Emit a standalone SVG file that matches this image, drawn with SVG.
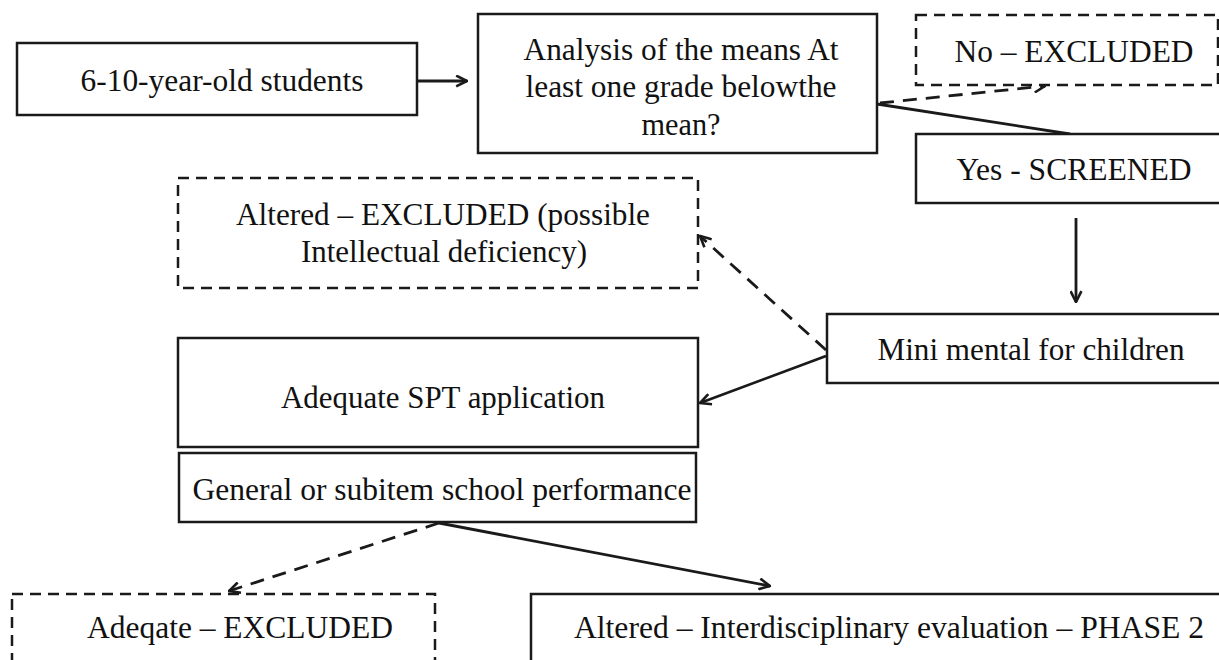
<svg xmlns="http://www.w3.org/2000/svg" width="1219" height="660" viewBox="0 0 1219 660">
  <style>
    .box { fill: #ffffff; stroke: #1a1a1a; stroke-width: 2.5; }
    .dbox { fill: #ffffff; stroke: #1a1a1a; stroke-width: 2.5; stroke-dasharray: 11 7; }
    .lbl { font-family: "Liberation Serif", "Times New Roman", serif; font-size: 31px; fill: #111111; text-anchor: middle; }
    .con { fill: none; stroke: #1a1a1a; stroke-width: 2.8; }
    .dcon { fill: none; stroke: #1a1a1a; stroke-width: 2.8; stroke-dasharray: 14 9; }
  </style>
  <defs>
    <marker id="arr" viewBox="0 0 12 12" refX="11" refY="6" markerWidth="13" markerHeight="13" markerUnits="userSpaceOnUse" orient="auto">
      <path d="M1,1 L11,6 L1,11" fill="none" stroke="#1a1a1a" stroke-width="2.4"/>
    </marker>
  </defs>
  <rect width="1219" height="660" fill="#ffffff"/>

  <g id="connectors">
    <line class="con" x1="417" y1="81" x2="467" y2="81" marker-end="url(#arr)"/>
    <line class="con" x1="877" y1="104" x2="1070" y2="134"/>
    <line class="dcon" x1="880" y1="103" x2="1045" y2="86" marker-end="url(#arr)"/>
    <line class="con" x1="1076" y1="218" x2="1076" y2="302" marker-end="url(#arr)"/>
    <line class="dcon" x1="826" y1="350" x2="700" y2="236" marker-end="url(#arr)"/>
    <line class="con" x1="826" y1="356" x2="700" y2="403" marker-end="url(#arr)"/>
    <line class="dcon" x1="439" y1="523" x2="229" y2="591" marker-end="url(#arr)"/>
    <line class="con" x1="439" y1="523" x2="770" y2="586" marker-end="url(#arr)"/>
  </g>

  <g id="node-students">
    <rect class="box" x="17" y="43" width="400" height="72"/>
    <text class="lbl" x="222" y="91" textLength="283" lengthAdjust="spacingAndGlyphs">6-10-year-old  students</text>
  </g>

  <g id="node-analysis">
    <rect class="box" x="478" y="14" width="399" height="139"/>
    <text class="lbl" x="681" y="60" textLength="315" lengthAdjust="spacingAndGlyphs">Analysis  of the means At</text>
    <text class="lbl" x="681" y="97" textLength="311" lengthAdjust="spacingAndGlyphs">least one grade belowthe</text>
    <text class="lbl" x="681" y="135" textLength="79" lengthAdjust="spacingAndGlyphs">mean?</text>
  </g>

  <g id="node-no-excluded">
    <rect class="dbox" x="916" y="15" width="302" height="70"/>
    <text class="lbl" x="1074" y="62" textLength="239" lengthAdjust="spacingAndGlyphs">No – EXCLUDED</text>
  </g>

  <g id="node-yes-screened">
    <rect class="box" x="916" y="134" width="310" height="69"/>
    <text class="lbl" x="1074" y="180" textLength="235" lengthAdjust="spacingAndGlyphs">Yes - SCREENED</text>
  </g>

  <g id="node-altered-excluded">
    <rect class="dbox" x="178" y="178" width="520" height="110"/>
    <text class="lbl" x="443" y="225" textLength="414" lengthAdjust="spacingAndGlyphs">Altered – EXCLUDED (possible</text>
    <text class="lbl" x="444" y="262" textLength="286" lengthAdjust="spacingAndGlyphs">Intellectual  deficiency)</text>
  </g>

  <g id="node-mini-mental">
    <rect class="box" x="827" y="314" width="400" height="69"/>
    <text class="lbl" x="1031" y="360" textLength="307" lengthAdjust="spacingAndGlyphs">Mini mental  for children</text>
  </g>

  <g id="node-spt">
    <rect class="box" x="178" y="338" width="520" height="109"/>
    <text class="lbl" x="443" y="408" textLength="324" lengthAdjust="spacingAndGlyphs">Adequate SPT application</text>
  </g>

  <g id="node-performance">
    <rect class="box" x="179" y="453" width="517" height="69"/>
    <text class="lbl" x="442" y="500" textLength="499" lengthAdjust="spacingAndGlyphs">General or subitem school performance</text>
  </g>

  <g id="node-adequate-excluded">
    <rect class="dbox" x="12" y="594" width="423" height="80"/>
    <text class="lbl" x="240" y="638" textLength="306" lengthAdjust="spacingAndGlyphs">Adeqate – EXCLUDED</text>
  </g>

  <g id="node-phase2">
    <rect class="box" x="531" y="594" width="700" height="80"/>
    <text class="lbl" x="889" y="638" textLength="630" lengthAdjust="spacingAndGlyphs">Altered – Interdisciplinary  evaluation  – PHASE 2</text>
  </g>
</svg>
